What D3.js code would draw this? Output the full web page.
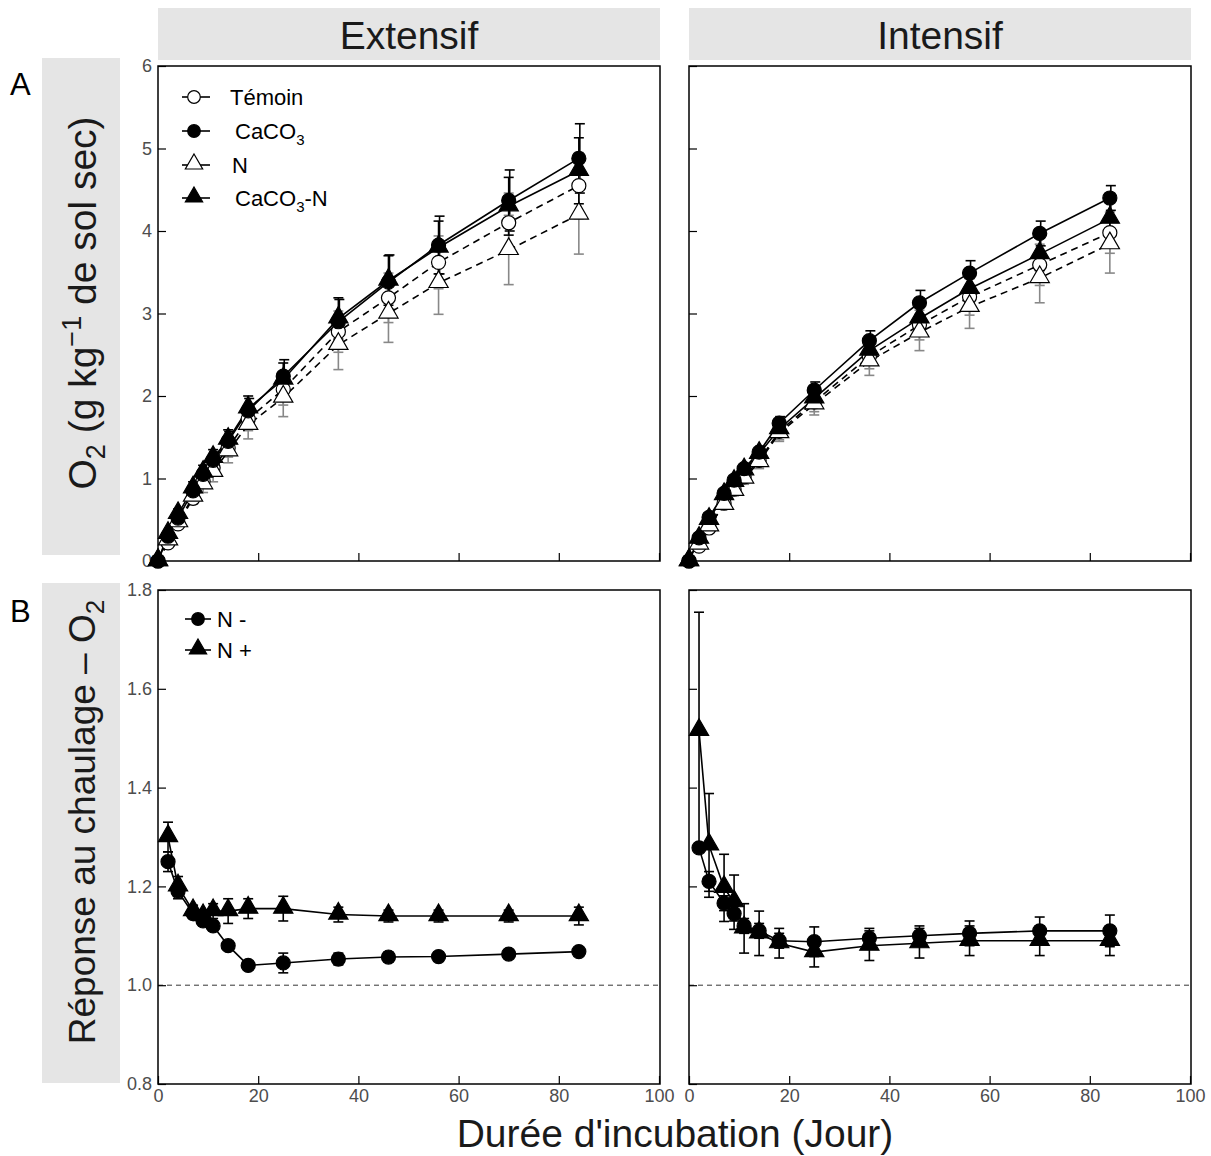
<!DOCTYPE html>
<html><head><meta charset="utf-8">
<script src="https://cdn.jsdelivr.net/npm/d3@7"></script>
<style>body{margin:0;background:#fff}svg{font-family:"Liberation Sans",Arial,sans-serif}</style>
</head><body><svg id="c" width="1211" height="1156"></svg>
<script>
// ---------- DATA ----------
const facets = ["Extensif", "Intensif"];
const daysTop = [0, 2, 4, 7, 9, 11, 14, 18, 25, 36, 46, 56, 70, 84];
const daysBot = [2, 4, 7, 9, 11, 14, 18, 25, 36, 46, 56, 70, 84];
const seriesTop = ["Témoin", "CaCO3", "N", "CaCO3-N"];
const seriesBot = ["N -", "N +"];
const xTicks = [0, 20, 40, 60, 80, 100];
const yTicksTop = [0, 1, 2, 3, 4, 5, 6];
const yTicksBot = [0.8, 1.0, 1.2, 1.4, 1.6, 1.8];

// Extensif (top)
const extTemoin = [0, 0.22, 0.45, 0.76, 0.97, 1.13, 1.37, 1.72, 2.08, 2.78, 3.19, 3.62, 4.10, 4.55];
const extCaCO3  = [0, 0.30, 0.52, 0.85, 1.05, 1.22, 1.45, 1.82, 2.24, 2.90, 3.38, 3.83, 4.37, 4.88];
const extN      = [0, 0.25, 0.47, 0.78, 0.93, 1.08, 1.33, 1.65, 1.98, 2.62, 3.00, 3.37, 3.77, 4.20];
const extCaCO3N = [0, 0.33, 0.57, 0.88, 1.07, 1.25, 1.47, 1.85, 2.20, 2.94, 3.40, 3.80, 4.30, 4.73];
const extTemoinSD = [0, 0.04, 0.05, 0.07, 0.08, 0.09, 0.11, 0.14, 0.19, 0.25, 0.30, 0.32, 0.36, 0.40];
const extCaCO3SD  = [0, 0.05, 0.06, 0.08, 0.09, 0.10, 0.12, 0.15, 0.20, 0.27, 0.33, 0.35, 0.37, 0.42];
const extNSD      = [0, 0.05, 0.06, 0.09, 0.10, 0.12, 0.14, 0.17, 0.23, 0.30, 0.35, 0.38, 0.42, 0.48];
const extCaCO3NSD = [0, 0.05, 0.06, 0.08, 0.09, 0.10, 0.12, 0.15, 0.20, 0.25, 0.30, 0.32, 0.35, 0.40];
// Intensif (top)
const intTemoin = [0, 0.18, 0.40, 0.70, 0.87, 1.02, 1.22, 1.57, 1.93, 2.48, 2.86, 3.20, 3.59, 3.98];
const intCaCO3  = [0, 0.28, 0.53, 0.82, 0.98, 1.12, 1.32, 1.67, 2.07, 2.67, 3.13, 3.49, 3.97, 4.40];
const intN      = [0, 0.20, 0.42, 0.68, 0.85, 1.00, 1.20, 1.55, 1.90, 2.42, 2.77, 3.08, 3.43, 3.84];
const intCaCO3N = [0, 0.27, 0.50, 0.80, 0.96, 1.10, 1.30, 1.60, 1.97, 2.55, 2.94, 3.30, 3.72, 4.15];
const intTemoinSD = [0, 0.03, 0.04, 0.05, 0.06, 0.07, 0.08, 0.10, 0.12, 0.15, 0.18, 0.22, 0.25, 0.25];
const intCaCO3SD  = [0, 0.03, 0.04, 0.05, 0.05, 0.06, 0.07, 0.08, 0.10, 0.12, 0.15, 0.15, 0.15, 0.15];
const intNSD      = [0, 0.03, 0.04, 0.05, 0.06, 0.07, 0.08, 0.10, 0.13, 0.17, 0.22, 0.26, 0.30, 0.35];
const intCaCO3NSD = [0, 0.03, 0.04, 0.05, 0.06, 0.06, 0.07, 0.08, 0.10, 0.12, 0.15, 0.18, 0.20, 0.22];

// Response to liming (bottom)
const extNmoins   = [1.250, 1.190, 1.145, 1.130, 1.120, 1.080, 1.040, 1.045, 1.053, 1.057, 1.058, 1.063, 1.068];
const extNplus    = [1.300, 1.200, 1.150, 1.140, 1.150, 1.150, 1.155, 1.155, 1.143, 1.140, 1.140, 1.140, 1.140];
const extNmoinsSD = [0.020, 0.015, 0.010, 0.010, 0.010, 0.008, 0.008, 0.020, 0.012, 0.010, 0.008, 0.008, 0.008];
const extNplusSD  = [0.030, 0.020, 0.012, 0.012, 0.015, 0.025, 0.020, 0.025, 0.015, 0.012, 0.012, 0.012, 0.018];
const intNmoins   = [1.278, 1.210, 1.166, 1.145, 1.120, 1.110, 1.090, 1.088, 1.095, 1.100, 1.105, 1.110, 1.110];
const intNplus    = [1.515, 1.283, 1.197, 1.168, 1.115, 1.105, 1.085, 1.067, 1.080, 1.085, 1.090, 1.090, 1.090];
const intNmoinsSD = [0.005, 0.020, 0.015, 0.015, 0.015, 0.015, 0.015, 0.030, 0.020, 0.020, 0.025, 0.028, 0.032];
const intNplusSD  = [0.240, 0.105, 0.068, 0.055, 0.050, 0.045, 0.030, 0.030, 0.030, 0.030, 0.030, 0.030, 0.030];

// ---------- BUILD ----------
const topData = {
  Extensif: {"Témoin":[extTemoin,extTemoinSD],"CaCO3":[extCaCO3,extCaCO3SD],"N":[extN,extNSD],"CaCO3-N":[extCaCO3N,extCaCO3NSD]},
  Intensif: {"Témoin":[intTemoin,intTemoinSD],"CaCO3":[intCaCO3,intCaCO3SD],"N":[intN,intNSD],"CaCO3-N":[intCaCO3N,intCaCO3NSD]}
};
const botData = {
  Extensif: {"N -":[extNmoins,extNmoinsSD],"N +":[extNplus,extNplusSD]},
  Intensif: {"N -":[intNmoins,intNmoinsSD],"N +":[intNplus,intNplusSD]}
};
const style = {
  "Témoin": {shape:"circle", fill:"#fff", dash:"7,5", err:"#888"},
  "CaCO3": {shape:"circle", fill:"#000", dash:null, err:"#000"},
  "N": {shape:"triangle", fill:"#fff", dash:"7,5", err:"#888"},
  "CaCO3-N": {shape:"triangle", fill:"#000", dash:null, err:"#000"},
  "N -": {shape:"circle", fill:"#000", dash:null, err:"#000"},
  "N +": {shape:"triangle", fill:"#000", dash:null, err:"#000"}
};

const svg = d3.select("#c");
const panelX = {Extensif:[158,660], Intensif:[689,1191]};
const topY = [66, 561], botY = [590, 1084];

const circleSym = d3.symbol().type(d3.symbolCircle).size(155);
const triSym = d3.symbol().type(d3.symbolTriangle).size(160);
const legCircle = d3.symbol().type(d3.symbolCircle).size(125);
const legTri = d3.symbol().type(d3.symbolTriangle).size(130);

function drawMarker(g, x, y, st, small) {
  const sym = st.shape === "circle" ? (small ? legCircle : circleSym) : (small ? legTri : triSym);
  g.append("path").attr("d", sym()).attr("transform", `translate(${x},${y + (st.shape==="triangle" ? -1 : 0)})`)
    .attr("fill", st.fill).attr("stroke", "#000").attr("stroke-width", 1.2);
}

function panel(facet, row) {
  const [x0, x1] = panelX[facet];
  const [y0, y1] = row === "top" ? topY : botY;
  const x = d3.scaleLinear().domain([0, 100]).range([x0, x1 - 1]);
  const y = row === "top" ? d3.scaleLinear().domain([0, 6]).range([y1, y0])
                          : d3.scaleLinear().domain([0.8, 1.8]).range([y1, y0]);
  const g = svg.append("g");
  // axes (inward ticks)
  const ax = g.append("g").attr("transform", `translate(0,${y1})`)
    .call(d3.axisBottom(x).tickValues(xTicks).tickSize(-8).tickPadding(5).tickFormat(row === "bot" ? d3.format("d") : () => ""));
  const ay = g.append("g").attr("transform", `translate(${x0},0)`)
    .call(d3.axisLeft(y).tickValues(row === "top" ? yTicksTop : yTicksBot).tickSize(-8).tickPadding(6)
      .tickFormat(facet === "Extensif" ? (row === "top" ? d3.format("d") : d3.format(".1f")) : () => ""));
  [ax, ay].forEach(a => {
    a.select(".domain").remove();
    a.selectAll("line").attr("stroke", "#000").attr("stroke-width", 1.2);
    a.selectAll("text").attr("fill", "#4d4d4d").style("font-size", "18px").style("font-family", "Liberation Sans, Arial, sans-serif");
  });
  // frame
  g.append("rect").attr("x", x0).attr("y", y0).attr("width", x1 - x0).attr("height", y1 - y0)
    .attr("fill", "none").attr("stroke", "#000").attr("stroke-width", 1.5);

  if (row === "bot") {
    g.append("line").attr("x1", x0).attr("x2", x1).attr("y1", y(1)).attr("y2", y(1))
      .attr("stroke", "#000").attr("stroke-width", 0.8).attr("stroke-dasharray", "5,4");
  }
  const days = row === "top" ? daysTop : daysBot;
  const data = row === "top" ? topData[facet] : botData[facet];
  const names = row === "top" ? seriesTop : seriesBot;
  const line = d3.line().x(d => x(d[0])).y(d => y(d[1]));
  const eb = 5;
  // error bars
  names.forEach(n => {
    const [vals, sds] = data[n];
    const st = style[n];
    vals.forEach((v, i) => {
      if (sds[i] <= 0) return;
      const cx = x(days[i]) + (row === "top" && n === "CaCO3" ? 1 : 0);
      const top = y(v + sds[i]), bot = y(v - sds[i]);
      const eg = g.append("g").attr("stroke", st.err).attr("stroke-width", 1.6);
      eg.append("line").attr("x1", cx).attr("x2", cx).attr("y1", top).attr("y2", bot);
      eg.append("line").attr("x1", cx - eb).attr("x2", cx + eb).attr("y1", top).attr("y2", top);
      eg.append("line").attr("x1", cx - eb).attr("x2", cx + eb).attr("y1", bot).attr("y2", bot);
    });
  });
  // lines
  names.forEach(n => {
    const [vals] = data[n];
    const st = style[n];
    g.append("path").datum(vals.map((v, i) => [days[i], v])).attr("d", line)
      .attr("fill", "none").attr("stroke", "#000").attr("stroke-width", 1.6)
      .attr("stroke-dasharray", st.dash);
  });
  // markers (open first, then filled)
  const order = row === "top" ? ["Témoin", "N", "CaCO3", "CaCO3-N"] : names;
  order.forEach(n => {
    const [vals] = data[n];
    vals.forEach((v, i) => drawMarker(g, x(days[i]), y(v), style[n], false));
  });
}

// strip headers
facets.forEach(f => {
  const [x0, x1] = panelX[f];
  svg.append("rect").attr("x", x0).attr("y", 8).attr("width", x1 - x0).attr("height", 52).attr("fill", "#e5e5e5");
  svg.append("text").attr("x", (x0 + x1) / 2).attr("y", 49).attr("text-anchor", "middle")
    .style("font-size", "39px").attr("fill", "#1a1a1a").text(f);
});
// y label boxes
svg.append("rect").attr("x", 42).attr("y", 58).attr("width", 78).attr("height", 497).attr("fill", "#e5e5e5");
svg.append("rect").attr("x", 42).attr("y", 583).attr("width", 78).attr("height", 500).attr("fill", "#e5e5e5");

facets.forEach(f => { panel(f, "top"); panel(f, "bot"); });

// panel letters
svg.append("text").attr("x", 10).attr("y", 95).style("font-size", "31px").text("A");
svg.append("text").attr("x", 10).attr("y", 622).style("font-size", "31px").text("B");

// y labels
const yl1 = svg.append("text").attr("transform", "translate(96,303) rotate(-90)").attr("text-anchor", "middle")
  .style("font-size", "39px").attr("fill", "#1a1a1a");
yl1.append("tspan").text("O");
yl1.append("tspan").attr("dy", 9).style("font-size", "27px").text("2");
yl1.append("tspan").attr("dy", -9).text(" (g kg");
yl1.append("tspan").attr("dy", -15).style("font-size", "27px").text("\u22121");
yl1.append("tspan").attr("dy", 15).text(" de sol sec)");
const yl2 = svg.append("text").attr("transform", "translate(95,822) rotate(-90)").attr("text-anchor", "middle")
  .style("font-size", "37px").attr("fill", "#1a1a1a");
yl2.append("tspan").text("Réponse au chaulage \u2013 O");
yl2.append("tspan").attr("dy", 9).style("font-size", "26px").text("2");

// x label
svg.append("text").attr("x", 675).attr("y", 1147).attr("text-anchor", "middle")
  .style("font-size", "39px").attr("fill", "#1a1a1a").text("Durée d'incubation (Jour)");

// legend top
const legTop = [["Témoin", 97, 230], ["CaCO3", 131, 235], ["N", 165, 232], ["CaCO3-N", 198, 235]];
legTop.forEach(([n, ly, tx]) => {
  svg.append("line").attr("x1", 182).attr("x2", 210).attr("y1", ly).attr("y2", ly).attr("stroke", "#000").attr("stroke-width", 1.6);
  drawMarker(svg, 194, ly, style[n], true);
  const t = svg.append("text").attr("x", tx).attr("y", ly + 8).style("font-size", "22px");
  if (n.startsWith("CaCO3")) {
    t.append("tspan").text("CaCO");
    t.append("tspan").attr("dy", 6).style("font-size", "15px").text("3");
    if (n === "CaCO3-N") t.append("tspan").attr("dy", -6).text("-N");
  } else t.text(n);
});
// legend bottom
[["N -", 619], ["N +", 650]].forEach(([n, ly]) => {
  svg.append("line").attr("x1", 185).attr("x2", 211).attr("y1", ly).attr("y2", ly).attr("stroke", "#000").attr("stroke-width", 1.6);
  drawMarker(svg, 198, ly, style[n], true);
  svg.append("text").attr("x", 217).attr("y", ly + 8).style("font-size", "22px").text(n);
});
</script></body></html>
